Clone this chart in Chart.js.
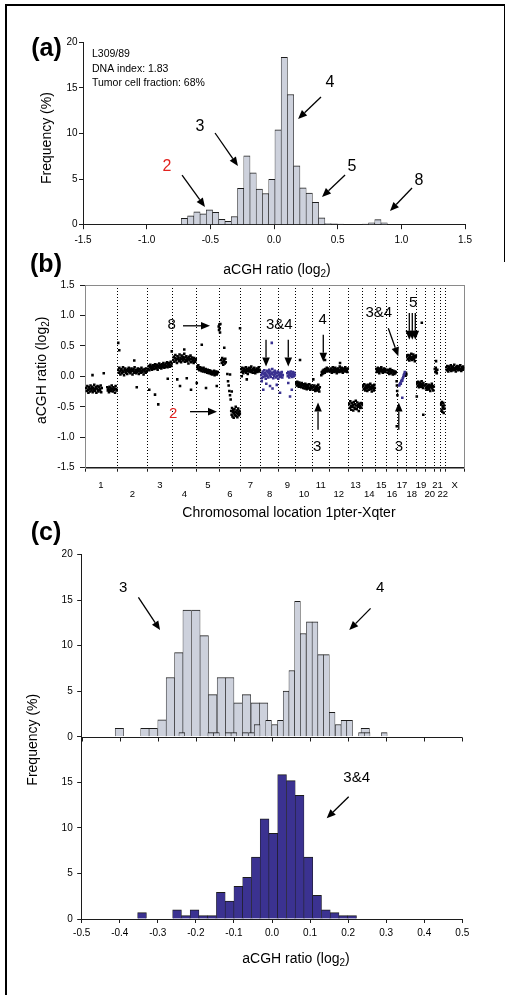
<!DOCTYPE html>
<html>
<head>
<meta charset="utf-8">
<script src="https://cdn.jsdelivr.net/npm/chart.js@4.4.1/dist/chart.umd.min.js"></script>
<style>
  body { margin: 0; background: #fff; }
  #page { position: relative; width: 507px; height: 995px; overflow: hidden; background: #fff; }
  #page canvas { position: absolute; left: 0; }
  .rule { position: absolute; background: #000; }
</style>
</head>
<body>
<div id="page">
  <div class="rule" style="left:5px;top:4px;width:1.5px;height:991px"></div>
  <div class="rule" style="left:5px;top:4px;width:500px;height:1.5px"></div>
  <div class="rule" style="left:503.5px;top:4px;width:1.5px;height:258px"></div>
  <canvas id="histA" width="507" height="285" style="top:0px"></canvas>
  <canvas id="profileB" width="507" height="280" style="top:250px"></canvas>
  <canvas id="histC" width="507" height="480" style="top:515px"></canvas>
</div>
<script>
// ---- (a) whole-genome ratio histogram, % of clones per bin ----
const binsA = [-0.703, -0.654, -0.605, -0.556, -0.507, -0.458, -0.409, -0.360, -0.311, -0.262,
  -0.213, -0.164, -0.115, -0.066, -0.017, 0.032, 0.081, 0.130, 0.179, 0.228,
  0.277, 0.326, 0.375, 0.424, 0.473, 0.522, 0.718, 0.767, 0.816, 0.865];
const freqA = [0.7, 0.97, 1.4, 1.2, 1.64, 1.35, 0.6, 0.38, 0.9, 4.0,
  7.56, 5.68, 3.9, 3.42, 4.98, 10.42, 18.35, 14.28, 6.45, 4.05,
  3.46, 2.45, 0.75, 0.13, 0.1, 0.06, 0.08, 0.2, 0.55, 0.2];

// ---- (b) genome profile ----
const chromNames = ['1','2','3','4','5','6','7','8','9','10','11','12','13','14','15','16','17','18','19','20','21','22','X'];
const chromStart = [0, 256, 502, 698, 894, 1073, 1244, 1402, 1550, 1686, 1818, 1954,
  2106, 2220, 2326, 2412, 2498, 2574, 2654, 2720, 2794, 2844, 2880];
const genomeEnd = 3034;

// clone log2 ratios x100, laid out in order between startMb and endMb; 'b' = chr 8/9/17 clones shown in blue
const segments = [
  ['k', 8, 136, [-19,-24,-16,-22,-27,-18,-21,-25,-15,-20,-23,-17,-26,-19,-22,-14,-24,-21,-18,-27,-20,-16,-23,-25,-17,-21,-22,-15,-26,-19]],
  ['k', 176, 256, [-18,-23,-20,-26,-17,-22,-19,-24,-15,-21,-25,-18,-22,-20,-27,-16,-21,-23]],
  ['k', 264, 496, [11,6,14,8,3,10,12,5,9,15,7,2,11,13,8,6,10,4,12,9,14,7,11,5,8,13,10,3,9,12,6,15,8,10,5,11,7,13,9,4,12,8,10,6,14,9,7,11,3,10,12,8,6,13,9]],
  ['k', 504, 696, [12,17,10,15,19,13,16,11,14,18,15,12,17,20,13,16,14,19,11,17,15,21,14,18,16,13,20,17,15,22,18,14,19,16,21,17,23,15,20,18,22,16,19,24,17,21]],
  ['k', 704, 888, [27,32,24,30,35,26,29,22,33,28,31,25,36,27,30,23,34,29,26,32,28,37,24,31,27,33,25,30,28,21,32,26,29,34,23,28,31,25,27,22,30,26,24,28]],
  ['k', 896, 1064, [16,12,18,13,10,15,11,14,9,13,12,8,14,10,11,7,12,9,10,6,11,8,5,10,7,9,4,8,6,3,7,5,9,2,6,4,8,3,5,7]],
  ['k', 1068, 1084, [82,76,85,79,72,86]],
  ['k', 1088, 1128, [27,22,30,24,19,28,25,21,29,23]],
  ['k', 1136, 1168, [4,-8,-15,-24,-31,-38]],
  ['k', 1168, 1240, [-57,-63,-52,-66,-59,-55,-68,-61,-54,-64,-58,-50,-65,-60,-56,-67,-62,-53,-59,-64,-57,-61]],
  ['k', 1248, 1400, [12,7,14,9,5,11,13,8,10,15,6,12,9,4,11,14,8,10,13,7,16,9,11,6,12,10,14,8,5,11,9,13,7,12,10,15,8,11]],
  ['b', 1408, 1552, [2,-3,5,8,-1,4,10,0,6,-4,3,9,1,7,-2,5,11,2,8,-1,4,6,12,3,-3,7,1,9,4,-2,6,0,5,8,-4,2]],
  ['b', 1552, 1584, [3,-1,6,1,4,7,-2,2]],
  ['b', 1616, 1680, [5,0,7,3,-2,6,2,8,1,4,-1,7,3,0,6,2]],
  ['k', 1688, 1816, [-11,-15,-9,-14,-12,-17,-10,-13,-16,-12,-18,-11,-15,-14,-19,-13,-16,-20,-12,-17,-15,-21,-14,-18,-16,-20,-13,-19,-22,-17,-15,-20]],
  ['k', 1824, 1880, [-17,-22,-15,-20,-24,-18,-21,-16,-23,-19,-14,-21,-25,-18]],
  ['k', 1888, 1952, [2,7,4,9,5,11,8,6,12,9,10,14,8,11,13,9]],
  ['k', 1960, 2104, [11,8,13,6,10,15,9,12,7,11,14,8,10,5,12,9,13,11,7,16,10,8,12,14,9,6,11,13,10,8,15,12,9,11,7,13]],
  ['k', 2112, 2216, [-45,-52,-41,-49,-55,-44,-50,-47,-56,-42,-51,-46,-53,-40,-48,-54,-43,-50,-47,-57,-45,-49,-52,-44,-51,-46]],
  ['k', 2224, 2320, [-16,-21,-13,-19,-23,-17,-15,-20,-24,-14,-18,-22,-16,-19,-12,-21,-17,-25,-15,-20,-18,-23,-14,-19]],
  ['k', 2328, 2408, [12,7,10,14,8,11,5,13,9,12,15,8,10,6,11,13,9,7,12,10]],
  ['k', 2416, 2488, [10,6,11,8,4,9,12,7,5,10,8,3,9,6,4,8,5,7]],
  ['k', 2492, 2500, [-8,-15,-24,-31]],
  ['b', 2512, 2560, [-15,-13,-11,-12,-8,-6,-7,-3,-1,2,4,7]],
  ['k', 2560, 2572, [5,1,6,3]],
  ['k', 2576, 2648, [33,28,35,30,26,34,31,29,37,27,32,30,36,28,33,25,31,34]],
  ['k', 2656, 2712, [-11,-16,-9,-14,-18,-12,-15,-10,-17,-13,-8,-16,-14,-19,-11,-15]],
  ['k', 2720, 2792, [-15,-20,-13,-18,-22,-16,-19,-14,-21,-17,-24,-15,-18,-12,-20,-16,-23,-17]],
  ['k', 2796, 2820, [12,7,14,9,5,11]],
  ['k', 2848, 2876, [-46,-55,-42,-58,-49,-52,-44,-60,-48,-53]],
  ['k', 2888, 3032, [15,10,17,12,8,14,16,11,13,18,9,15,12,16,10,14,19,11,13,8,15,12,17,14,10,16,13,11,18,12,9,15,14,11,16,13]],
];
// single stray clones [Mb, log2 x100]
const strayBlack = [[60,2],[150,5],[266,55],[274,43],[394,26],[414,-18],[514,-22],[560,-30],[586,-46],[662,-4],
  [694,41],[738,-5],[760,-16],[794,44],[814,-3],[848,-22],[894,-11],[934,52],[968,-19],[1054,-16],
  [1114,47],[1160,3],[1174,-25],[1240,79],[1254,0],[1294,-5],[1720,27],[1826,-5],[1920,27],[2040,22],
  [2494,-82],[2654,-33],[2694,88],[2706,-63],[2808,25]];
const strayBlue = [[1414,-8],[1426,-22],[1450,-12],[1480,-16],[1494,55],[1500,-20],[1534,-14],[1560,-27],
  [1626,-11],[1640,-33],[1654,-22],[2538,-35]];

// ---- (c) histograms of the chr 8/9 region ----
const wideBins = [-0.401, -0.334, -0.312, -0.289, -0.267, -0.245, -0.223, -0.200, -0.178,
  -0.156, -0.133, -0.111, -0.089, -0.067, -0.044, -0.022, 0.245];
const wideFreq = [0.93, 0.93, 0.93, 1.85, 6.5, 9.24, 13.9, 13.9, 11.1,
  4.63, 6.5, 6.5, 3.71, 4.63, 3.71, 3.71, 0.93];
const narrowBins = [-0.237, -0.161, -0.146, -0.115, -0.100, -0.070, -0.054, -0.039, -0.009,
  0.007, 0.022, 0.037, 0.052, 0.067, 0.082, 0.098, 0.113, 0.128, 0.143, 0.158, 0.174,
  0.189, 0.204, 0.235, 0.250, 0.295];
const narrowFreq = [0.46, 0.46, 0.46, 0.46, 0.46, 0.46, 0.46, 1.34, 1.8,
  1.34, 1.8, 5.0, 7.27, 14.87, 11.33, 12.6, 12.6, 9.02, 9.02, 2.69, 1.34,
  1.8, 1.8, 0.46, 0.46, 0.46];
const mixBins = [-0.3415, -0.2495, -0.2265, -0.2035, -0.1805, -0.1575, -0.1345, -0.1115, -0.0885,
  -0.0655, -0.0425, -0.0195, 0.0035, 0.0265, 0.0495, 0.0725, 0.0955, 0.1185, 0.1415,
  0.1645, 0.1875, 0.2105];
const mixFreq = [0.7, 1.0, 0.37, 1.0, 0.37, 0.37, 2.93, 1.98, 3.59,
  4.57, 6.8, 11.0, 9.4, 15.84, 15.18, 13.57, 6.8, 2.6, 1.0,
  0.7, 0.37, 0.37];

const FONT = '"Liberation Sans", Arial, Helvetica, sans-serif';
const GREY = '#cdd1dc', EDGE = '#1c1c1c', NAVY = '#3b3291', RED = '#e2231f';
Chart.defaults.font.family = FONT;
Chart.defaults.font.size = 10;
Chart.defaults.color = '#000';

const pairs = (xs, ys) => xs.map((x, i) => ({ x: x, y: ys[i] }));
const barStyle = (fill) => ({
  backgroundColor: fill, borderColor: EDGE,
  borderWidth: { top: 1, left: 0.6, right: 0.6, bottom: 0 },
  barPercentage: 1, categoryPercentage: 1, grouped: false
});

// text with optional one-character subscripts written as _x
function rich(ctx, text, x, y, size, rot, align, bold) {
  const big = (bold ? 'bold ' : '') + size + 'px ' + FONT;
  const small = Math.round(size * 0.72) + 'px ' + FONT;
  let w = 0;
  const parts = text.split(/(_.)/).filter(Boolean).map(p => {
    const sub = p.length === 2 && p[0] === '_';
    const s = sub ? p[1] : p;
    ctx.font = sub ? small : big;
    const pw = ctx.measureText(s).width;
    w += pw;
    return { s, sub, pw };
  });
  ctx.save();
  ctx.translate(x, y);
  ctx.rotate(rot * Math.PI / 180);
  ctx.textAlign = 'left';
  ctx.textBaseline = 'middle';
  let cx = align === 'left' ? 0 : -w / 2;
  parts.forEach(p => {
    ctx.font = p.sub ? small : big;
    ctx.fillText(p.s, cx, p.sub ? size * 0.32 : 0);
    cx += p.pw;
  });
  ctx.restore();
}

function arrow(ctx, x1, y1, x2, y2) {
  const ang = Math.atan2(y2 - y1, x2 - x1), L = 9, W = 3.8;
  const bx = x2 - L * Math.cos(ang), by = y2 - L * Math.sin(ang);
  ctx.strokeStyle = '#000';
  ctx.lineWidth = 1.3;
  ctx.beginPath(); ctx.moveTo(x1, y1); ctx.lineTo(bx, by); ctx.stroke();
  ctx.fillStyle = '#000';
  ctx.beginPath();
  ctx.moveTo(x2, y2);
  ctx.lineTo(bx + W * Math.sin(ang), by - W * Math.cos(ang));
  ctx.lineTo(bx - W * Math.sin(ang), by + W * Math.cos(ang));
  ctx.closePath(); ctx.fill();
}

// labels, arrows and axis captions; notes/arrows sit in data units
function marks(cfg) {
  return {
    id: 'marks',
    beforeDatasetsDraw(chart) {
      if (!cfg.frame) return;
      const a = chart.chartArea, ctx = chart.ctx;
      ctx.save();
      ctx.strokeStyle = cfg.frame; ctx.lineWidth = 1;
      ctx.strokeRect(Math.round(a.left) + 0.5, Math.round(a.top) + 0.5, Math.round(a.right - a.left), Math.round(a.bottom - a.top));
      ctx.restore();
    },
    afterDraw(chart) {
      const ctx = chart.ctx, a = chart.chartArea, xs = chart.scales.x;
      ctx.save();
      if (cfg.midAxis) {
        const y0 = Math.round(chart.scales[cfg.midAxis].getPixelForValue(0)) + 0.5;
        ctx.strokeStyle = '#1c1c1c'; ctx.lineWidth = 1;
        ctx.beginPath(); ctx.moveTo(a.left, y0); ctx.lineTo(a.right, y0);
        xs.ticks.forEach(t => {
          const px = Math.round(xs.getPixelForValue(t.value)) + 0.5;
          ctx.moveTo(px, y0); ctx.lineTo(px, y0 + 4);
        });
        ctx.stroke();
      }
      (cfg.arrows || []).forEach(([x1, y1, x2, y2, yId]) => {
        const ys = chart.scales[yId || 'y'];
        arrow(ctx, xs.getPixelForValue(x1), ys.getPixelForValue(y1), xs.getPixelForValue(x2), ys.getPixelForValue(y2));
      });
      (cfg.notes || []).forEach(n => {
        const ys = chart.scales[n.yAxis || 'y'];
        ctx.fillStyle = n.color || '#000';
        rich(ctx, n.text, xs.getPixelForValue(n.x), ys.getPixelForValue(n.y), n.size || 15, 0, 'center', false);
      });
      (cfg.captions || []).forEach(c => {
        ctx.fillStyle = '#000';
        const px = a.left + (a.right - a.left) * c.ax + c.dx;
        const py = a.top + (a.bottom - a.top) * c.ay + c.dy;
        rich(ctx, c.text, px, py, c.size, c.rot || 0, c.align || 'center', c.bold);
      });
      ctx.restore();
    }
  };
}

const axisLine = { color: '#1c1c1c', width: 1 };
const common = {
  responsive: false, animation: false, events: [],
  plugins: { legend: { display: false }, tooltip: { enabled: false } }
};

// (a)
new Chart(document.getElementById('histA'), {
  type: 'bar',
  data: { datasets: [{ label: 'all clones', data: pairs(binsA, freqA), ...barStyle(GREY) }] },
  options: {
    ...common,
    layout: { padding: { left: 0, right: 42, top: 42.4, bottom: 5.3 } },
    scales: {
      x: {
        type: 'linear', min: -1.5, max: 1.5, offset: false,
        afterFit: s => { s.height = 55; },
        ticks: { stepSize: 0.5, padding: 4.8, maxRotation: 0, autoSkip: false, callback: v => v.toFixed(1) },
        grid: { offset: false, drawOnChartArea: false, tickLength: 4.5, color: '#1c1c1c' },
        border: axisLine
      },
      y: {
        min: 0, max: 20,
        afterFit: s => { s.width = 83; },
        ticks: { stepSize: 5, padding: 1.5 },
        grid: { drawOnChartArea: false, tickLength: 4, color: '#1c1c1c' },
        border: axisLine
      }
    }
  },
  plugins: [marks({
    notes: [
      { text: '4', x: 0.44, y: 15.58, size: 16 },
      { text: '3', x: -0.581, y: 10.72, size: 16 },
      { text: '2', x: -0.84, y: 6.33, size: 16, color: RED },
      { text: '5', x: 0.613, y: 6.33, size: 16 },
      { text: '8', x: 1.139, y: 4.79, size: 16 }
    ],
    arrows: [
      [0.369, 14.01, 0.189, 11.59], [-0.463, 10.06, -0.283, 6.44], [-0.722, 5.45, -0.542, 1.94],
      [0.558, 5.45, 0.377, 3.04], [1.084, 4.03, 0.911, 1.50]
    ],
    captions: [
      { text: '(a)', ax: 0, ay: 0, dx: -36.5, dy: 6.6, size: 25, bold: true },
      { text: 'L309/89', ax: 0, ay: 0, dx: 9, dy: 11.6, size: 10.5, align: 'left' },
      { text: 'DNA index: 1.83', ax: 0, ay: 0, dx: 9, dy: 26.9, size: 10.5, align: 'left' },
      { text: 'Tumor cell fraction: 68%', ax: 0, ay: 0, dx: 9, dy: 40.9, size: 10.5, align: 'left' },
      { text: 'Frequency (%)', ax: 0, ay: 0.5, dx: -36.3, dy: 4.5, size: 14, rot: -90 },
      { text: 'aCGH ratio (log_2)', ax: 0.5, ay: 1, dx: 3, dy: 45.3, size: 14 }
    ]
  })]
});

// (b)
const blackPts = [], bluePts = [];
segments.forEach(([grp, a, b, vals]) => {
  const out = grp === 'b' ? bluePts : blackPts;
  vals.forEach((v, i) => out.push({ x: a + (b - a) * (i + 0.5) / vals.length, y: v / 100 }));
});
strayBlack.forEach(([x, v]) => blackPts.push({ x: x, y: v / 100 }));
strayBlue.forEach(([x, v]) => bluePts.push({ x: x, y: v / 100 }));

const dot = { pointStyle: 'rect', pointRadius: 1.8, pointBorderWidth: 0, showLine: false };
new Chart(document.getElementById('profileB'), {
  type: 'scatter',
  data: { datasets: [
    { label: 'chr 8, 9, 17', data: bluePts, backgroundColor: NAVY, ...dot },
    { label: 'clones', data: blackPts, backgroundColor: '#000', ...dot }
  ] },
  options: {
    ...common,
    layout: { padding: { left: 0, right: 42.7, top: 35, bottom: 8.3 } },
    scales: {
      x: {
        type: 'linear', min: 0, max: genomeEnd, position: 'bottom',
        afterBuildTicks: s => { s.ticks = chromStart.concat([genomeEnd]).map(v => ({ value: v })); },
        afterFit: s => { s.height = 4; },
        ticks: { display: false },
        grid: { drawOnChartArea: true, drawTicks: true, tickLength: 4, color: '#000', tickColor: '#1c1c1c' },
        border: { color: '#1c1c1c', width: 1, dash: [1, 2] }
      },
      chrom: {
        type: 'linear', min: 0, max: genomeEnd, position: 'bottom',
        afterBuildTicks: s => {
          s.ticks = chromStart.map((v, i) => ({ value: (v + (i + 1 < chromStart.length ? chromStart[i + 1] : genomeEnd)) / 2 }));
        },
        afterFit: s => { s.height = 50; },
        ticks: {
          autoSkip: false, maxRotation: 0, padding: 8.5, font: { size: 9.5, lineHeight: 1 },
          callback: (v, i) => (i % 2 ? ['', chromNames[i]] : [chromNames[i], ''])
        },
        grid: { display: false, drawTicks: false },
        border: { display: false }
      },
      y: {
        min: -1.5, max: 1.5,
        afterFit: s => { s.width = 85; },
        ticks: { stepSize: 0.5, padding: 5.5, callback: v => v.toFixed(1) },
        grid: { drawOnChartArea: false, tickLength: 5, color: '#1c1c1c' },
        border: axisLine
      }
    }
  },
  plugins: [marks({
    frame: '#8a8a8a',
    notes: [
      { text: '8', x: 694, y: 0.85 },
      { text: '2', x: 706, y: -0.61, color: RED },
      { text: '3&4', x: 1554, y: 0.85 },
      { text: '4', x: 1902, y: 0.93 },
      { text: '3', x: 1858, y: -1.15 },
      { text: '3&4', x: 2350, y: 1.04 },
      { text: '5', x: 2626, y: 1.21 },
      { text: '3', x: 2512, y: -1.15 }
    ],
    arrows: [
      [784, 0.83, 1000, 0.83], [840, -0.58, 1056, -0.58],
      [1448, 0.60, 1448, 0.16], [1626, 0.60, 1626, 0.16], [1906, 0.685, 1906, 0.24],
      [1864, -0.875, 1864, -0.43], [2426, 0.79, 2506, 0.33],
      [2594, 1.04, 2594, 0.60], [2618, 1.04, 2618, 0.60], [2642, 1.04, 2642, 0.60],
      [2510, -0.875, 2510, -0.43]
    ],
    captions: [
      { text: '(b)', ax: 0, ay: 0, dx: -39, dy: -20, size: 25, bold: true },
      { text: 'aCGH ratio (log_2)', ax: 0, ay: 0.5, dx: -43, dy: -6, size: 14, rot: -90 },
      { text: 'Chromosomal location 1pter-Xqter', ax: 0.5, ay: 1, dx: 14.3, dy: 45.6, size: 14 }
    ]
  })]
});

// (c): two value axes stacked on one x range; the lower one is declared first
const yStack = (hideTop) => ({
  position: 'left', stack: 'c', stackWeight: 1, min: 0, max: 20,
  afterFit: s => { s.width = 81.7; },
  ticks: { stepSize: 5, padding: 4.5, callback: v => (hideTop && v === 20 ? '' : v) },
  grid: { drawOnChartArea: false, tickLength: 4.5, color: '#1c1c1c' },
  border: axisLine
});
const hiddenX = { type: 'linear', display: false, min: -0.5, max: 0.5, offset: false, grid: { offset: false } };
new Chart(document.getElementById('histC'), {
  type: 'bar',
  data: { datasets: [
    { label: 'narrow bins', data: pairs(narrowBins, narrowFreq), xAxisID: 'xn', yAxisID: 'yTop', ...barStyle(GREY) },
    { label: 'wide bins', data: pairs(wideBins, wideFreq), xAxisID: 'xw', yAxisID: 'yTop', ...barStyle(GREY) },
    { label: '3&4', data: pairs(mixBins, mixFreq), xAxisID: 'x', yAxisID: 'yBot', ...barStyle(NAVY) }
  ] },
  options: {
    ...common,
    layout: { padding: { left: 0, right: 44.7, top: 39.5, bottom: 26 } },
    scales: {
      x: {
        type: 'linear', min: -0.5, max: 0.5, offset: false, position: 'bottom',
        afterFit: s => { s.height = 50; },
        ticks: { stepSize: 0.1, padding: 4.3, maxRotation: 0, autoSkip: false, callback: v => v.toFixed(1) },
        grid: { offset: false, drawOnChartArea: false, tickLength: 4, color: '#1c1c1c' },
        border: axisLine
      },
      xw: hiddenX,
      xn: hiddenX,
      yBot: yStack(true),
      yTop: yStack(false)
    }
  },
  plugins: [marks({
    midAxis: 'yTop',
    notes: [
      { text: '3', x: -0.391, y: 16.3, yAxis: 'yTop' },
      { text: '4', x: 0.284, y: 16.3, yAxis: 'yTop' },
      { text: '3&4', x: 0.2225, y: 15.44, yAxis: 'yBot' }
    ],
    arrows: [
      [-0.351, 15.3, -0.294, 11.71, 'yTop'], [0.259, 14.09, 0.203, 11.71, 'yTop'],
      [0.2015, 13.42, 0.1437, 11.05, 'yBot']
    ],
    captions: [
      { text: '(c)', ax: 0, ay: 0, dx: -35.7, dy: -21.5, size: 25, bold: true },
      { text: 'Frequency (%)', ax: 0, ay: 0.5, dx: -48.7, dy: 3, size: 14, rot: -90 },
      { text: 'aCGH ratio (log_2)', ax: 0.5, ay: 1, dx: 24, dy: 40, size: 14 }
    ]
  })]
});
</script>
</body>
</html>
